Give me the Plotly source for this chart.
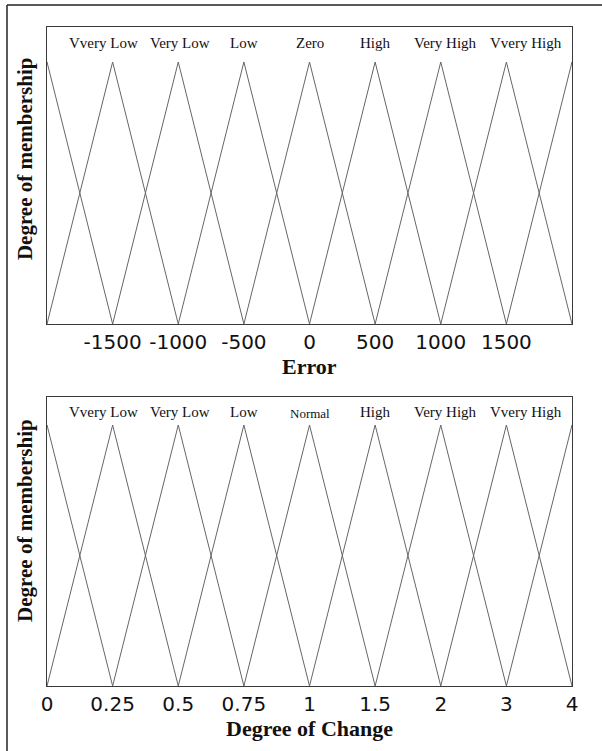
import plotly.graph_objects as go

# ---- Data ----
error_labels = ["", "Vvery Low", "Very Low", "Low", "Zero", "High", "Very High", "Vvery High", ""]
error_peaks = [-2000, -1500, -1000, -500, 0, 500, 1000, 1500, 2000]
error_left = [-2500, -2000, -1500, -1000, -500, 0, 500, 1000, 1500]
error_right = [-1500, -1000, -500, 0, 500, 1000, 1500, 2000, 2500]
error_ticks = [-1500, -1000, -500, 0, 500, 1000, 1500]
error_ticktext = ["-1500", "-1000", "-500", "0", "500", "1000", "1500"]

change_labels = ["", "Vvery Low", "Very Low", "Low", "Normal", "High", "Very High", "Vvery High", ""]
change_ticktext = ["0", "0.25", "0.5", "0.75", "1", "1.5", "2", "3", "4"]
change_peaks = [0, 1, 2, 3, 4, 5, 6, 7, 8]          # category positions
change_left = [-1, 0, 1, 2, 3, 4, 5, 6, 7]
change_right = [1, 2, 3, 4, 5, 6, 7, 8, 9]

membership = [0, 1, 0]

LINE_COLOR = "#666666"
BOX_COLOR = "#3a3a3a"
SERIF = "Liberation Serif"
SANS = "DejaVu Sans"
LABEL_SHIFT = [0, -9, 2, 0, 0, 0, 5, 20, 0]   # pixel nudges of the set names

fig = go.Figure()

for l, p, r in zip(error_left, error_peaks, error_right):
    fig.add_trace(go.Scatter(x=[l, p, r], y=membership, mode="lines",
                             line=dict(color=LINE_COLOR, width=1),
                             xaxis="x", yaxis="y", showlegend=False, hoverinfo="skip"))
for l, p, r in zip(change_left, change_peaks, change_right):
    fig.add_trace(go.Scatter(x=[l, p, r], y=membership, mode="lines",
                             line=dict(color=LINE_COLOR, width=1),
                             xaxis="x2", yaxis="y2", showlegend=False, hoverinfo="skip"))

annotations = []
for lab, p, s in zip(error_labels, error_peaks, LABEL_SHIFT):
    if lab:
        annotations.append(dict(x=p, y=1.0725, xref="x", yref="y", text=lab, showarrow=False,
                                xshift=s, xanchor="center", yanchor="middle",
                                font=dict(family=SERIF, size=15, color="#111")))
for lab, p, s in zip(change_labels, change_peaks, LABEL_SHIFT):
    if lab:
        annotations.append(dict(x=p, y=1.05 if lab != "Normal" else 1.045, xref="x2", yref="y2",
                                text=lab, showarrow=False, xshift=s, xanchor="center", yanchor="middle",
                                font=dict(family=SERIF, size=15 if lab != "Normal" else 13, color="#111")))

# axis titles
title_common = dict(xref="paper", yref="paper", showarrow=False, xanchor="center", yanchor="middle")
annotations += [
    dict(x=0.5, y=0.4841, text="<b>Error</b>",
         font=dict(family=SERIF, size=22, color="#111"), **title_common),
    dict(x=0.5, y=-0.064, text="<b>Degree of Change</b>",
         font=dict(family=SERIF, size=22, color="#111"), **title_common),
    dict(x=-0.042, y=0.801, text="<b>Degree of membership</b>", textangle=-90,
         font=dict(family=SERIF, size=21, color="#111"), **title_common),
    dict(x=-0.042, y=0.252, text="<b>Degree of membership</b>", textangle=-90,
         font=dict(family=SERIF, size=21, color="#111"), **title_common),
]

axis_common = dict(showline=True, linecolor=BOX_COLOR, linewidth=1, mirror=True,
                   showgrid=False, zeroline=False, ticks="", automargin=False)

fig.update_layout(
    width=602, height=751,
    margin=dict(l=47, r=30, t=27, b=65),
    paper_bgcolor="white", plot_bgcolor="white",
    xaxis=dict(domain=[0, 1], range=[-2000, 2000], tickvals=error_ticks, ticktext=error_ticktext,
               tickangle=0, tickfont=dict(family=SANS, size=20, color="#111"), anchor="y", **axis_common),
    yaxis=dict(domain=[0.5493, 1], range=[0, 1.1336], showticklabels=False, anchor="x", **axis_common),
    xaxis2=dict(domain=[0, 1], range=[0, 8], tickvals=change_peaks, ticktext=change_ticktext,
                tickangle=0, tickfont=dict(family=SANS, size=20, color="#111"), anchor="y2", **axis_common),
    yaxis2=dict(domain=[0, 0.4385], range=[0, 1.1073], showticklabels=False, anchor="x2", **axis_common),
    annotations=annotations,
    shapes=[
        dict(type="line", xref="paper", yref="paper", x0=-0.0762, x1=1.06, y0=1.0334, y1=1.0334,
             line=dict(color="#222", width=1.5)),
        dict(type="line", xref="paper", yref="paper", x0=-0.0762, x1=-0.0762, y0=1.0334, y1=-0.1,
             line=dict(color="#222", width=1.5)),
    ],
)

fig.write_html("out.html", config={"displayModeBar": False},
               post_script="document.body.style.margin='0';")
